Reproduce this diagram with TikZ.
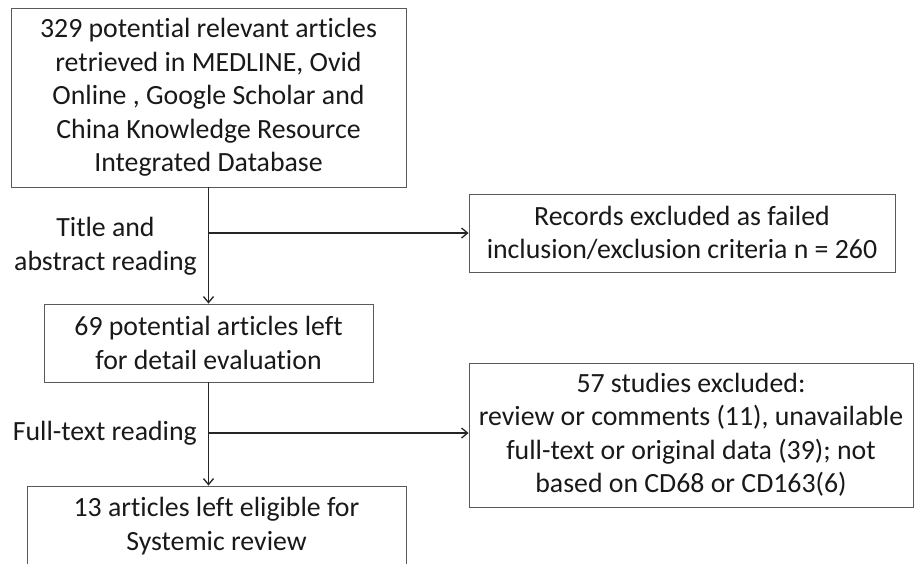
\documentclass[tikz,border=0pt]{standalone}
\usepackage{fontspec}
\setmainfont{Carlito}[Ligatures=CommonOff]
\usetikzlibrary{arrows.meta}
\begin{document}
\begin{tikzpicture}[x=1pt,y=-1pt,
    box/.style={draw=black!65,line width=0.9pt,align=center,inner sep=0pt,
      font=\fontsize{27.8}{33.5}\selectfont,text=black!90},
    steplabel/.style={align=center,inner sep=0pt,font=\fontsize{27.8}{33.5}\selectfont,text=black!90},
    flow/.style={-{Straight Barb[length=6pt,width=10pt]},line width=1.3pt,draw=black!85}]
    \useasboundingbox (0,0) rectangle (914,563);
    \fill[white] (0,0) rectangle (914,563);

    \node[box,minimum width=395pt,minimum height=179pt] (search) at (208.5,97.5)
      {329 potential relevant articles\\retrieved in MEDLINE, Ovid\\Online , Google Scholar and\\China Knowledge Resource\\Integrated Database};
    \node[box,minimum width=329pt,minimum height=78pt] (left) at (208.5,343)
      {69 potential articles left\\for detail evaluation};
    \node[box,minimum width=379pt,minimum height=80pt] (final) at (216.5,526)
      {13 articles left eligible for\\Systemic review};
    \node[box,minimum width=426pt,minimum height=78pt] (excl) at (682,233)
      {Records excluded as failed\\inclusion/exclusion criteria n = 260};
    \node[box,minimum width=444pt,minimum height=144pt] (studies) at (691,435)
      {57 studies excluded:\\review or comments (11), unavailable\\full-text or original data (39); not\\based on CD68 or CD163(6)};

    \node[steplabel,anchor=east] (title) at (197,246) {Title and\\abstract reading};
    \node[steplabel,anchor=east] (full) at (197,433) {Full-text reading};

    \coordinate (b1) at (208.5,233);
    \coordinate (b2) at (208.5,433);
    \draw[flow] (search.south) -- (left.north);
    \draw[flow] (b1) -- (excl.west);
    \draw[flow] (left.south) -- (left.south |- final.north);
    \draw[flow] (b2) -- (b2 -| studies.west);
\end{tikzpicture}
\end{document}
